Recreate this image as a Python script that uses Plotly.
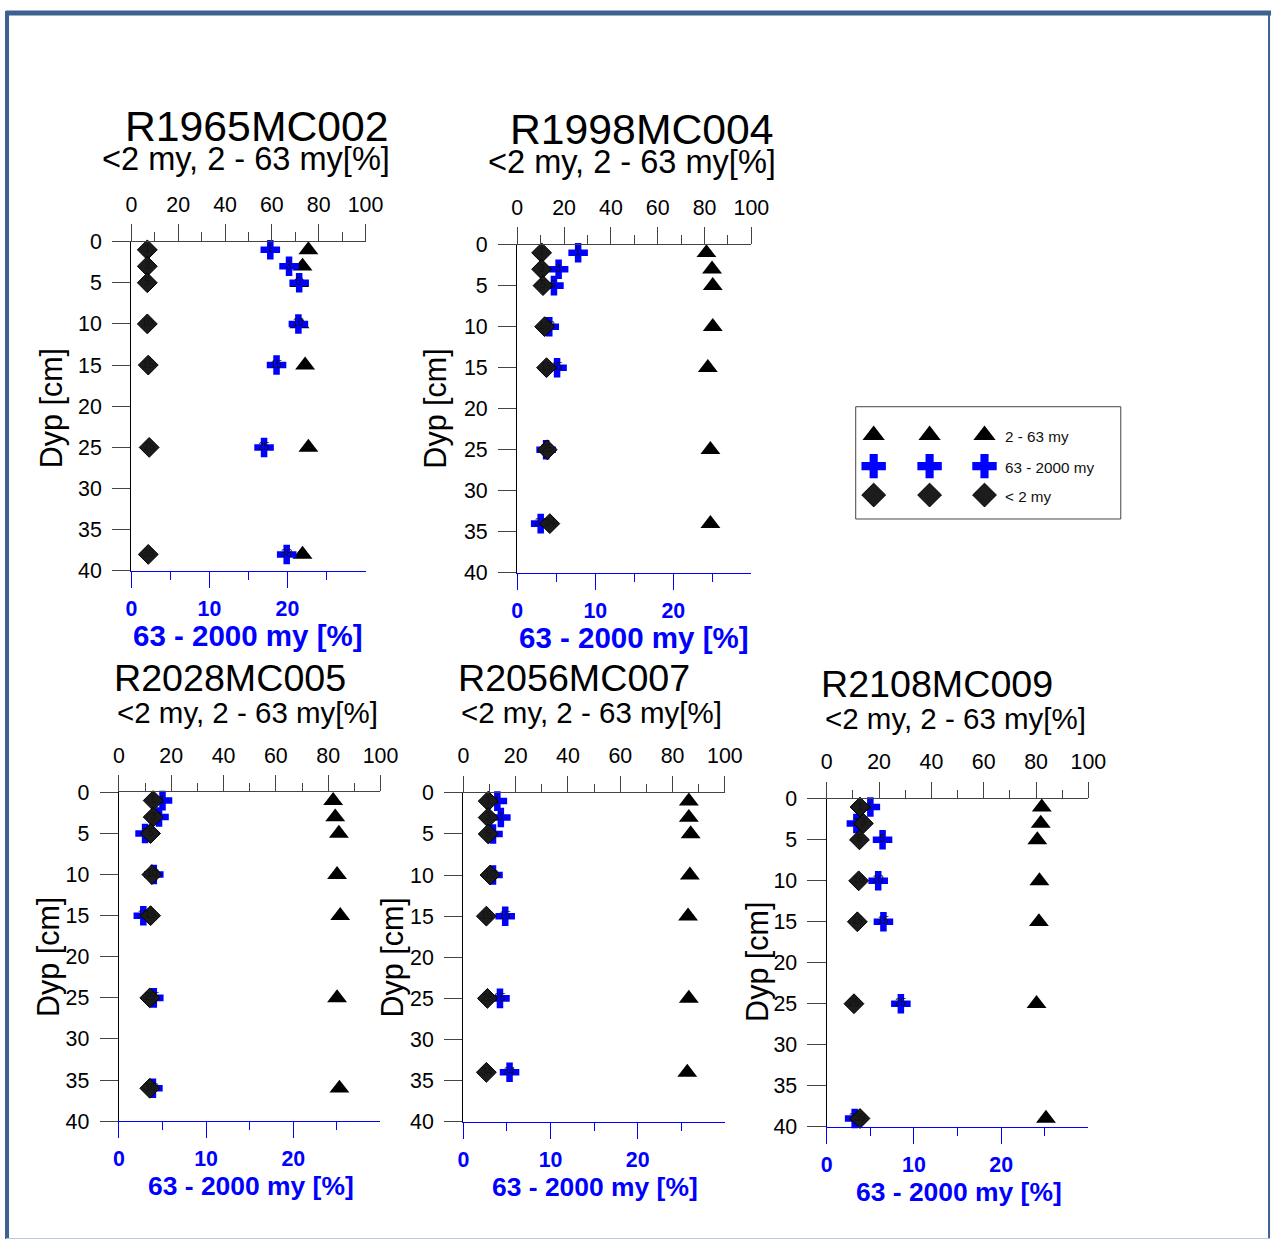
import plotly.graph_objects as go

FONT = "Liberation Sans, Arial, sans-serif"
BLUE = "#0000ff"

# The page shows the figure offset by the body margin and slightly reduced,
# so layout positions below are given in screen pixels and mapped back here.
OFF, S = 7.9, 0.983
W, H = 1290, 1253

# ---- grain-size data per core: depth [cm], <2 my [%], 2-63 my [%], 63-2000 my [%]
core_names = ["R1965MC002", "R1998MC004", "R2028MC005", "R2056MC007", "R2108MC009"]

depth_r1965 = [1, 3, 5, 10, 15, 25, 38]
clay_r1965 = [6.8, 6.8, 6.8, 6.8, 7.2, 7.6, 7.2]
silt_r1965 = [75.6, 73.1, 71.7, 71.8, 74.2, 75.6, 73.1]
sand_r1965 = [17.8, 20.2, 21.5, 21.4, 18.6, 17.0, 19.9]

depth_r1998 = [1, 3, 5, 10, 15, 25, 34]
clay_r1998 = [10.4, 10.4, 11.0, 11.7, 12.5, 12.8, 13.9]
silt_r1998 = [80.8, 83.2, 83.5, 83.5, 81.4, 82.5, 82.5]
sand_r1998 = [7.8, 5.3, 4.7, 4.1, 5.1, 3.7, 3.0]

depth_r2028 = [1, 3, 5, 10, 15, 25, 36]
clay_r2028 = [13.1, 13.1, 12.1, 12.6, 12.1, 11.8, 11.8]
silt_r2028 = [81.9, 82.7, 84.1, 83.4, 84.6, 83.4, 84.3]
sand_r2028 = [5.0, 4.6, 3.0, 4.0, 2.8, 4.0, 3.9]

depth_r2056 = [1, 3, 5, 10, 15, 25, 34]
clay_r2056 = [9.5, 9.5, 9.5, 10.2, 8.8, 9.2, 8.8]
silt_r2056 = [86.2, 86.2, 86.9, 86.6, 85.9, 86.2, 85.6]
sand_r2056 = [3.9, 4.3, 3.4, 3.4, 4.8, 4.2, 5.3]

depth_r2108 = [1, 3, 5, 10, 15, 25, 39]
clay_r2108 = [12.7, 14.0, 12.5, 12.2, 11.7, 10.4, 12.7]
silt_r2108 = [82.2, 81.8, 80.5, 81.3, 81.1, 80.2, 83.8]
sand_r2108 = [5.0, 3.4, 6.4, 5.9, 6.5, 8.5, 3.2]

depth_ticks = [0, 5, 10, 15, 20, 25, 30, 35, 40]
top_ticks = [0, 20, 40, 60, 80, 100]
top_minor = [10, 30, 50, 70, 90]
bottom_ticks = [0, 10, 20]
bottom_minor = [5, 15, 25]

legend_labels = ["2 - 63 my", "63 - 2000 my", "< 2 my"]

cores = [
    (depth_r1965, clay_r1965, silt_r1965, sand_r1965),
    (depth_r1998, clay_r1998, silt_r1998, sand_r1998),
    (depth_r2028, clay_r2028, silt_r2028, sand_r2028),
    (depth_r2056, clay_r2056, silt_r2056, sand_r2056),
    (depth_r2108, clay_r2108, silt_r2108, sand_r2108),
]

# ---- page layout in screen pixels
# plot frame: x0, x1, ytop, ybottom
boxes = [
    (133.5, 368.0, 238.0, 568.0),
    (520.0, 754.5, 241.0, 570.0),
    (121.0, 383.0, 790.0, 1119.5),
    (466.0, 728.0, 790.5, 1120.0),
    (830.0, 1092.0, 796.5, 1125.0),
]
# title (x, y, size), subtitle (x, y, size), y-title (x, y), x-title (x, y, size)
titles = [
    ((259, 122, 42), (248, 155, 32), (53, 405), (250, 633, 29)),
    ((645, 125, 42), (635, 158, 32), (438, 405), (637, 635, 29)),
    ((232, 675, 37), (250, 710, 29), (50, 955), (253, 1184, 26)),
    ((577, 675, 37), (594, 710, 29), (395, 955), (598, 1185, 26)),
    ((940, 681, 37), (959, 716, 29), (760, 960), (962, 1190, 26)),
]


def fx(px):
    return (px - OFF) / S / W


def fy(py):
    return 1 - (py - OFF) / S / H


def sz(v):
    return v / S


def key(prefix, n):
    return prefix + ("" if n == 1 else str(n))


fig = go.Figure()
layout = {}
annotations = []

for i, ((depth, clay, silt, sand), name, (x0, x1, yt, yb), tt) in enumerate(
    zip(cores, core_names, boxes, titles), start=1
):
    xb, xp, xd = 3 * i - 2, 3 * i - 1, 3 * i
    labels = [str(d) for d in depth]

    # 2-63 my on the top (0-100 %) scale
    fig.add_trace(go.Scatter(
        x=silt, y=depth, xaxis=key("x", xb), yaxis=key("y", i), mode="markers",
        marker=dict(symbol="triangle-up", size=sz(17), color="black"),
        showlegend=False, cliponaxis=False, hoverinfo="x+y",
    ))
    # 63-2000 my on the bottom (0-30 %) scale
    fig.add_trace(go.Scatter(
        x=sand, y=depth, xaxis=key("x", xp), yaxis=key("y", i), mode="markers+text",
        marker=dict(symbol="cross", size=sz(16), color=BLUE),
        text=labels, textposition="middle center",
        textfont=dict(family=FONT, size=sz(10), color="#111"),
        showlegend=False, cliponaxis=False, hoverinfo="x+y",
    ))
    # <2 my on the top scale, drawn last
    fig.add_trace(go.Scatter(
        x=clay, y=depth, xaxis=key("x", xd), yaxis=key("y", i), mode="markers+text",
        marker=dict(symbol="diamond", size=sz(15), color="#1c1c1c",
                    line=dict(color="black", width=1)),
        text=labels, textposition="middle center",
        textfont=dict(family=FONT, size=sz(10), color="#111"),
        showlegend=False, cliponaxis=False, hoverinfo="x+y",
    ))

    dom_x = [fx(x0), fx(x1)]
    dom_y = [fy(yb), fy(yt)]

    layout[key("xaxis", xb)] = dict(
        domain=dom_x, anchor=key("y", i), side="top", range=[0, 100],
        tickmode="array", tickvals=top_ticks, ticks="outside", ticklen=sz(16),
        tickcolor="#444", tickwidth=1, showline=True, linecolor="#444", linewidth=1,
        showgrid=False, zeroline=False, ticklabelstandoff=4,
        tickfont=dict(family=FONT, size=sz(21), color="black"),
        minor=dict(tickmode="array", tickvals=top_minor, ticks="outside",
                   ticklen=sz(8), tickcolor="#444", showgrid=False),
    )
    layout[key("xaxis", xp)] = dict(
        overlaying=key("x", xb), anchor=key("y", i), side="bottom", range=[0, 30],
        tickmode="array", tickvals=bottom_ticks, ticks="outside", ticklen=sz(16),
        tickcolor=BLUE, tickwidth=1, showline=True, linecolor=BLUE, linewidth=1,
        showgrid=False, zeroline=False, ticklabelstandoff=2,
        tickfont=dict(family=FONT, size=sz(21), color=BLUE, weight="bold"),
        minor=dict(tickmode="array", tickvals=bottom_minor, ticks="outside",
                   ticklen=sz(8), tickcolor=BLUE, showgrid=False),
    )
    layout[key("xaxis", xd)] = dict(
        overlaying=key("x", xb), anchor=key("y", i), range=[0, 100], visible=False,
    )
    layout[key("yaxis", i)] = dict(
        domain=dom_y, anchor=key("x", xb), side="left", range=[40, 0],
        tickmode="array", tickvals=depth_ticks, ticks="outside", ticklen=sz(18),
        tickcolor="#444", tickwidth=1, showline=True, linecolor="black", linewidth=1,
        showgrid=False, zeroline=False, ticklabelstandoff=6,
        tickfont=dict(family=FONT, size=sz(21), color="black"),
    )

    (tx, ty, ts), (sx, sy, ss), (yx, yy), (bx, by, bs) = tt
    annotations += [
        dict(text=name, x=fx(tx), y=fy(ty), xref="paper", yref="paper",
             xanchor="center", yanchor="middle", showarrow=False,
             font=dict(family=FONT, size=sz(ts), color="black")),
        dict(text="&lt;2 my, 2 - 63 my[%]", x=fx(sx), y=fy(sy), xref="paper", yref="paper",
             xanchor="center", yanchor="middle", showarrow=False,
             font=dict(family=FONT, size=sz(ss), color="black")),
        dict(text="Dyp [cm]", x=fx(yx), y=fy(yy), xref="paper", yref="paper",
             xanchor="center", yanchor="middle", showarrow=False, textangle=-90,
             font=dict(family=FONT, size=sz(30), color="black")),
        dict(text="63 - 2000 my [%]", x=fx(bx), y=fy(by), xref="paper", yref="paper",
             xanchor="center", yanchor="middle", showarrow=False,
             font=dict(family=FONT, size=sz(bs), color=BLUE, weight="bold")),
    ]

# ---- legend box: three symbol columns per row, label on the right
LX0, LX1, LY0, LY1 = 859, 1124.5, 403.5, 516
leg_cols = [877, 933, 988]
leg_rows = [432, 463, 492]
leg_symbols = [("triangle-up", 19, "black"), ("cross", 20, BLUE), ("diamond", 18, "#1c1c1c")]
for (sym, size, col), row, lab in zip(leg_symbols, leg_rows, legend_labels):
    fig.add_trace(go.Scatter(
        x=leg_cols, y=[row] * 3, xaxis="x16", yaxis="y6", mode="markers",
        marker=dict(symbol=sym, size=sz(size), color=col,
                    line=dict(color="black", width=1 if sym == "diamond" else 0)),
        showlegend=False, hoverinfo="skip", cliponaxis=False,
    ))
    annotations.append(dict(
        text=lab, x=fx(1007), y=fy(row + 1), xref="paper", yref="paper",
        xanchor="left", yanchor="middle", showarrow=False,
        font=dict(family=FONT, size=sz(15), color="#111"),
    ))
layout["xaxis16"] = dict(domain=[fx(LX0), fx(LX1)], range=[LX0, LX1], visible=False,
                         anchor="y6", fixedrange=True)
layout["yaxis6"] = dict(domain=[fy(LY1), fy(LY0)], range=[LY1, LY0], visible=False,
                        anchor="x16", fixedrange=True)

shapes = [
    # legend frame
    dict(type="rect", xref="paper", yref="paper", x0=fx(LX0), x1=fx(LX1),
         y0=fy(LY1), y1=fy(LY0), line=dict(color="#444", width=1)),
    # page frame
    dict(type="line", xref="paper", yref="paper", x0=0, x1=fx(1275),
         y0=fy(9), y1=fy(9), line=dict(color="#3d6190", width=5)),
    dict(type="line", xref="paper", yref="paper", x0=0.0008, x1=0.0008,
         y0=fy(7), y1=fy(1239), line=dict(color="#3d6190", width=4)),
    dict(type="line", xref="paper", yref="paper", x0=fx(1273), x1=fx(1273),
         y0=fy(7), y1=fy(1237), line=dict(color="#3d6190", width=2)),
    dict(type="line", xref="paper", yref="paper", x0=0, x1=fx(1273),
         y0=fy(1237.5), y1=fy(1237.5), line=dict(color="#b9c8da", width=2)),
]

fig.update_layout(
    width=W, height=H, margin=dict(l=0, r=0, t=0, b=0, pad=0),
    paper_bgcolor="white", plot_bgcolor="white",
    showlegend=False, annotations=annotations, shapes=shapes,
    font=dict(family=FONT, color="black"),
    **layout,
)

fig.write_html("out.html")
